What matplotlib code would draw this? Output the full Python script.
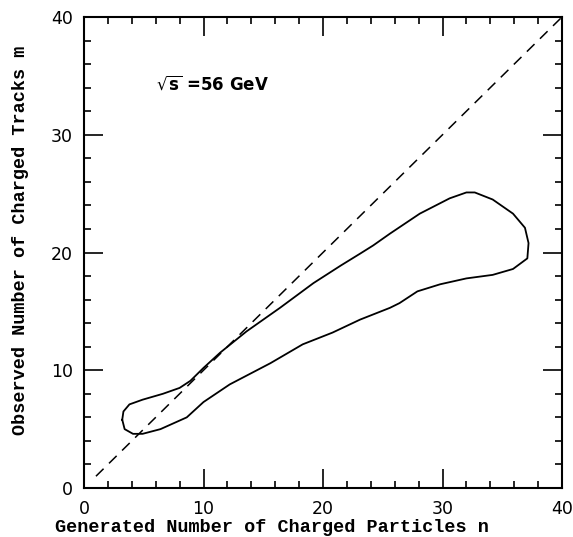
import matplotlib
matplotlib.use("Agg")
import matplotlib.pyplot as plt
from matplotlib.ticker import MultipleLocator

# Contour outline (closed), generated n vs observed m
contour_n = [3.2, 3.3, 3.8, 4.9, 6.6, 8.0, 8.9, 10.0, 11.4, 13.6, 16.4, 19.2, 21.5, 23.1,
             24.2, 25.6, 28.1, 30.6, 32.0, 32.7, 34.2, 35.9, 36.9, 37.2, 37.1, 35.9, 34.2,
             32.0, 29.8, 27.9, 26.4, 25.6, 23.1, 20.8, 18.3, 15.6, 12.2, 10.0, 8.6, 6.4,
             4.9, 4.1, 3.4, 3.2]
contour_m = [5.8, 6.5, 7.1, 7.5, 8.0, 8.5, 9.1, 10.2, 11.5, 13.3, 15.3, 17.4, 18.9, 19.9,
             20.6, 21.6, 23.3, 24.6, 25.1, 25.1, 24.5, 23.3, 22.1, 20.8, 19.5, 18.6, 18.1,
             17.8, 17.3, 16.7, 15.7, 15.3, 14.3, 13.2, 12.2, 10.6, 8.8, 7.3, 6.0, 5.0,
             4.6, 4.6, 5.0, 5.8]
diag = [1, 40]
xticks = [0, 10, 20, 30, 40]
yticks = [0, 10, 20, 30, 40]

fig = plt.figure(figsize=(5.73, 5.37), dpi=100)
ax = fig.add_axes([84/573, 1-488/537, (562-84)/573, (488-17)/537])

ax.plot(contour_n, contour_m, color='black', lw=1.3)
ax.plot(diag, diag, color='black', lw=1.1, dashes=(7, 5))

ax.set_xlim(0, 40)
ax.set_ylim(0, 40)
ax.set_xticks(xticks)
ax.set_yticks(yticks)
ax.xaxis.set_minor_locator(MultipleLocator(2))
ax.yaxis.set_minor_locator(MultipleLocator(2))
ax.tick_params(which='both', direction='in', top=True, right=True, width=1.2, colors='black')
ax.tick_params(which='major', length=14, labelsize=12.5)
ax.tick_params(axis='x', which='major', pad=9)
ax.tick_params(axis='y', which='major', pad=8)
ax.tick_params(which='minor', length=5)
for sp in ax.spines.values():
    sp.set_linewidth(1.5)

for lab in ax.get_xticklabels() + ax.get_yticklabels():
    lab.set_family('DejaVu Sans')

fig.text(272/573, 1-528/537, 'Generated Number of Charged Particles n', fontsize=13.3,
         family='Liberation Mono', fontweight='bold', ha='center', va='center')
fig.text(21/573, 1-240/537, 'Observed Number of Charged Tracks m', fontsize=13.3,
         family='Liberation Mono', fontweight='bold', ha='center', va='center',
         rotation=90)

ax.text(6.0, 34.3, r'$\sqrt{\mathbf{s}}$ =56 GeV', fontsize=12, fontweight='bold',
        family='DejaVu Sans', va='center', ha='left')

fig.savefig('out.png', dpi=100)
